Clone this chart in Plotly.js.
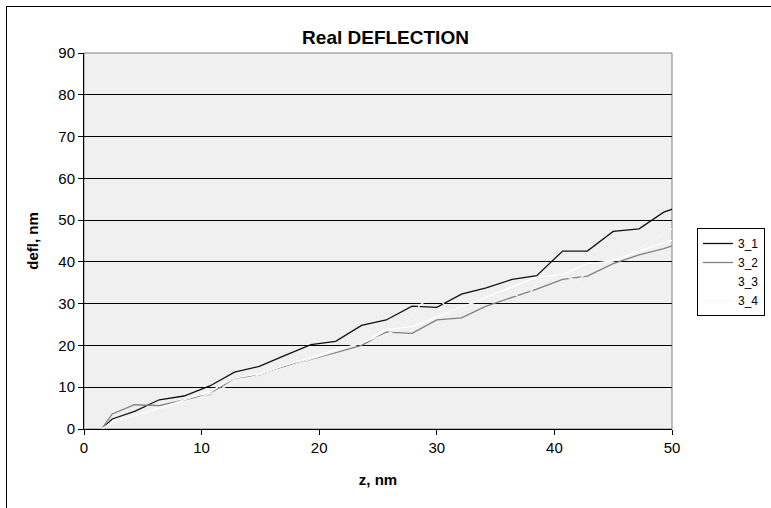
<!DOCTYPE html>
<html>
<head>
<meta charset="utf-8">
<script src="https://cdn.plot.ly/plotly-3.0.1.min.js"></script>
<style>
  html, body { margin: 0; padding: 0; background: #fff; overflow: hidden; }
  #wrap { position: relative; width: 771px; height: 508px; }
  #chart { position: absolute; left: 0; top: 0; width: 771px; height: 508px; }
  #frame { position: absolute; left: 6px; top: 6px; width: 800px; height: 600px;
           border-left: 1px solid #000; border-top: 1px solid #000; pointer-events: none; }
</style>
</head>
<body>
<div id="wrap"><div id="chart"></div><div id="frame"></div></div>
<script>
// z positions (nm) shared by series 3_1, 3_2, 3_3
const z = [1.5, 2.4, 4.3, 6.4, 8.5, 10.7, 12.8, 14.9, 17.1, 19.3, 21.4, 23.6, 25.7, 27.9, 30.0, 32.1, 34.2, 36.4, 38.5, 40.7, 42.8, 45.0, 47.2, 49.3, 50.2];
const defl_3_1 = [0, 2.4, 4.2, 7.0, 7.9, 10.3, 13.6, 15.0, 17.6, 20.2, 21.0, 24.8, 26.1, 29.4, 29.1, 32.3, 33.8, 35.8, 36.7, 42.6, 42.6, 47.3, 47.9, 51.9, 52.8];
const defl_3_2 = [0, 3.6, 5.8, 5.6, 7.0, 8.3, 12.2, 12.9, 15.0, 16.6, 18.3, 20.0, 23.2, 22.9, 26.1, 26.6, 29.4, 31.5, 33.5, 35.8, 36.6, 39.6, 41.7, 43.2, 44.0];
const defl_3_3 = [0, 1.8, 3.2, 5.0, 7.0, 9.0, 12.2, 13.2, 15.2, 17.2, 19.0, 20.5, 23.8, 24.5, 26.8, 29.2, 31.5, 34.0, 36.3, 37.0, 39.6, 40.2, 42.6, 44.6, 45.3];
// series 3_4 has its own z positions
const z_3_4 = [1.5, 3.0, 5.0, 7.0, 9.0, 11.0, 13.0, 15.0, 17.0, 19.0, 21.0, 23.0, 25.0, 27.0, 28.6, 30.0, 31.1, 33.1, 34.6, 36.0, 37.5, 38.5, 40.5, 42.0, 43.4, 45.5, 47.4, 50.0];
const defl_3_4 = [0, 2.2, 3.5, 5.2, 6.8, 8.7, 11.5, 13.0, 14.6, 16.5, 18.2, 20.0, 22.0, 24.1, 29.8, 32.0, 28.0, 30.2, 31.7, 33.3, 30.7, 35.1, 36.9, 35.5, 39.1, 41.2, 43.5, 47.9];

const seriesNames = ['3_1', '3_2', '3_3', '3_4'];
const xTicks = [0, 10, 20, 30, 40, 50];
const yTicks = [0, 10, 20, 30, 40, 50, 60, 70, 80, 90];

const colors = ['#111111', '#808080', '#ffffff', '#f4f4f4'];
const xs = [z, z, z, z_3_4];
const ys = [defl_3_1, defl_3_2, defl_3_3, defl_3_4];

const traces = seriesNames.map((n, i) => ({
  type: 'scatter', mode: 'lines', name: n,
  x: xs[i], y: ys[i],
  line: { color: colors[i], width: 1.3 }
}));

const FAM = 'Liberation Sans, Arial, sans-serif';
const font = { family: FAM, size: 15, color: '#000' };
const legFont = { family: FAM, size: 12, color: '#000' };
const axTitleFont = { family: FAM, size: 15, color: '#000' };

const layout = {
  width: 771, height: 508,
  margin: { l: 84, r: 99, t: 53, b: 79, autoexpand: false },
  paper_bgcolor: '#ffffff',
  plot_bgcolor: '#f0f0f0',
  font: font,
  showlegend: true,
  title: {
    text: '<b>Real DEFLECTION</b>',
    font: { family: FAM, size: 19, color: '#000' },
    x: 0.5, xref: 'container', xanchor: 'center',
    y: 1 - 37 / 508, yref: 'container', yanchor: 'middle'
  },
  xaxis: {
    range: [0, 50], tickvals: xTicks, ticktext: xTicks.map(String),
    showgrid: false, zeroline: false,
    showline: true, linecolor: '#000', linewidth: 1,
    ticks: 'outside', ticklen: 5, tickcolor: '#000',
    tickfont: font,
    title: { text: '<b>z, nm</b>', font: axTitleFont, standoff: 19 }
  },
  yaxis: {
    range: [0, 90], tickvals: yTicks, ticktext: yTicks.map(String),
    showgrid: true, gridcolor: '#000', gridwidth: 1, zeroline: false,
    showline: true, linecolor: '#000', linewidth: 1,
    ticks: 'outside', ticklen: 5, tickcolor: '#000',
    tickfont: font,
    title: { text: '<b>defl, nm</b>', font: axTitleFont, standoff: 16 }
  },
  shapes: [{
    type: 'rect', xref: 'paper', yref: 'paper', x0: 0, x1: 1, y0: 0, y1: 1,
    line: { color: '#808080', width: 1 }, layer: 'below'
  }],
  legend: {
    x: (697 - 84) / 588, xanchor: 'left',
    y: (429 - 228) / 376, yanchor: 'top',
    bgcolor: '#ffffff', bordercolor: '#000', borderwidth: 1,
    font: legFont, tracegroupgap: 0, itemwidth: 30
  }
};

Plotly.newPlot('chart', traces, layout, { staticPlot: true, displayModeBar: false });
</script>
</body>
</html>
